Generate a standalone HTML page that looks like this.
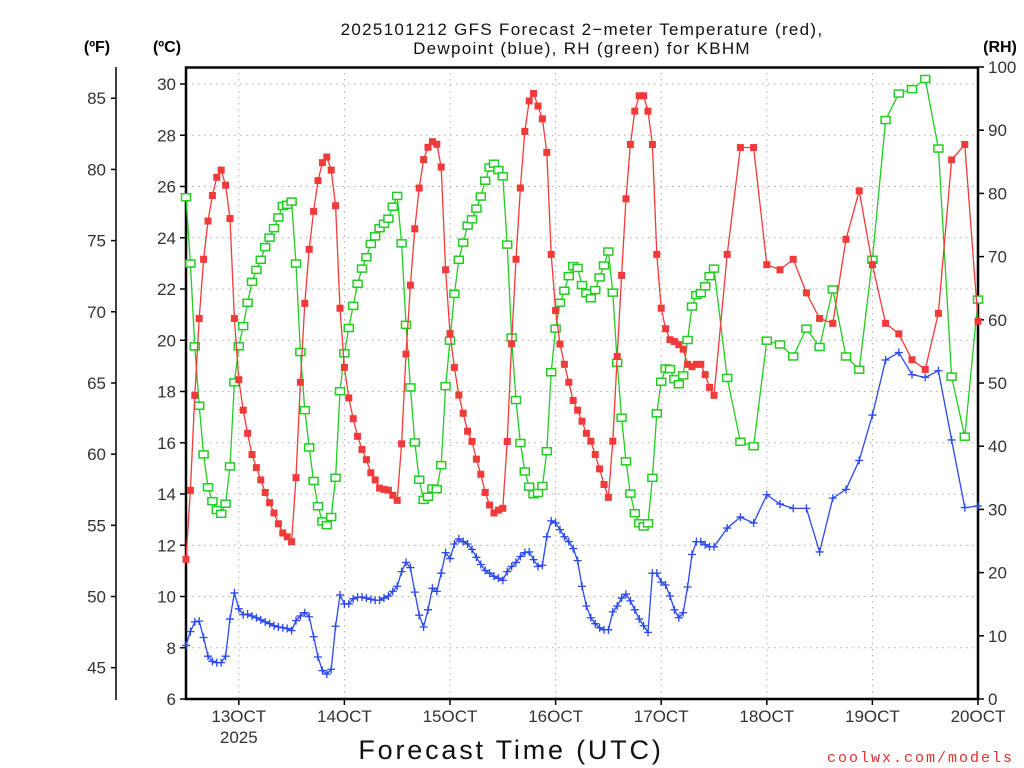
<!DOCTYPE html>
<html><head><meta charset="utf-8">
<style>
html,body{margin:0;padding:0;background:#fff;}
svg{display:block;font-family:"Liberation Sans",sans-serif;}
</style></head>
<body>
<svg id="chart" width="1024" height="768" viewBox="0 0 1024 768" xmlns="http://www.w3.org/2000/svg">
<g font-size="17" fill="#111" text-anchor="middle" letter-spacing="1.3">
<text x="582" y="35">2025101212 GFS Forecast 2−meter Temperature (red),</text>
<text x="582" y="54">Dewpoint (blue), RH (green) for KBHM</text>
</g>
<text x="97" y="52" font-size="16" font-weight="bold" text-anchor="middle">(ºF)</text>
<text x="167" y="52" font-size="16" font-weight="bold" text-anchor="middle">(ºC)</text>
<text x="1000" y="52" font-size="16" font-weight="bold" text-anchor="middle">(RH)</text>
<g id="grid"></g>
<g id="axes"></g>
<g id="series"></g>
<text x="511" y="759" font-size="27" letter-spacing="2.8" text-anchor="middle" fill="#111">Forecast Time (UTC)</text>
<text x="1014" y="762" font-size="15" letter-spacing="2" text-anchor="end" fill="#e03030" font-family="Liberation Mono, monospace">coolwx.com/models</text>
</svg>
<script>
const hours1 = Array.from({length:121},(_,i)=>i);
const hours2 = [123,126,129,132,135,138,141,144,147,150,153,156,159,162,165,168,171,174,177,180];
const tempC = [11.45,14.14,17.85,20.85,23.16,24.65,25.65,26.36,26.64,26.05,24.75,20.85,18.46,17.27,16.37,15.54,15.03,14.55,14.06,13.66,13.26,12.84,12.48,12.33,12.14,
14.64,18.36,21.44,23.55,25.03,26.23,26.93,27.15,26.64,25.25,21.25,18.94,17.75,16.94,16.25,15.74,15.34,14.83,14.55,14.23,
14.18,14.15,13.95,13.75,15.96,19.46,22.15,24.35,25.94,27.05,27.53,27.75,27.65,26.76,22.75,20.26,18.94,17.86,17.15,16.45,16.05,15.36,14.77,14.06,13.57,13.26,13.37,13.44,16.05,19.86,23.16,25.94,28.15,29.34,29.63,29.14,28.64,27.33,23.35,21.16,19.85,19.06,18.36,17.65,17.27,
16.84,16.37,16.06,15.54,14.98,14.37,13.87,16.06,19.37,22.53,25.52,27.64,28.94,29.54,29.54,28.94,27.64,23.35,21.25,20.45,20.02,19.95,19.83,19.65,19.06,18.97,19.06,19.06,18.66,18.16,17.85,
23.35,27.52,27.52,22.95,22.75,23.16,21.85,20.85,20.66,23.94,25.83,22.95,20.66,20.25,19.24,18.86,21.05,27.04,27.64,20.74];
const dewC = [8.09,8.63,9.01,9.04,8.40,7.67,7.47,7.42,7.42,7.67,9.12,10.14,9.52,9.29,9.31,9.24,9.17,9.09,9.01,8.94,8.86,8.81,8.78,8.75,8.67,
9.06,9.24,9.37,9.21,8.43,7.64,7.11,6.97,7.16,8.84,10.06,9.71,9.71,9.91,9.97,9.98,9.94,9.89,9.86,9.86,
9.94,10.02,10.20,10.40,10.97,11.33,11.13,10.17,9.27,8.81,9.48,10.32,10.20,10.91,11.71,11.48,12.05,12.25,12.14,12.05,11.84,11.53,11.25,11.02,10.91,10.79,10.71,10.63,10.97,11.17,11.33,11.56,11.71,11.74,11.44,11.17,11.22,12.33,12.95,12.87,12.61,12.33,12.14,11.87,11.40,
10.40,9.63,9.17,8.94,8.78,8.70,8.70,9.40,9.63,9.94,10.09,9.83,9.48,9.12,8.86,8.60,10.91,10.91,10.56,10.45,10.02,9.48,9.17,9.37,10.37,11.64,12.14,12.14,12.02,11.94,11.94,
12.67,13.10,12.87,13.97,13.61,13.44,13.44,11.74,13.84,14.18,15.31,17.08,19.23,19.52,18.66,18.55,18.81,16.11,13.47,13.53];
const rhPct = [79.4,68.9,55.8,46.4,38.7,33.5,31.3,29.9,29.3,30.9,36.8,50.1,55.8,59.0,62.7,66.0,67.9,69.5,71.5,73.0,74.5,76.2,78.0,78.2,78.7,
68.9,54.9,45.7,39.8,34.5,30.5,28.1,27.5,28.8,35.0,48.7,54.7,58.7,62.2,65.7,68.1,69.9,72.0,73.2,74.5,
75.2,76.0,77.9,79.6,72.1,59.2,49.3,40.6,34.7,31.5,32.0,33.3,33.2,37.0,49.5,56.7,64.1,69.5,72.2,74.9,75.9,77.6,79.5,82.0,84.1,84.7,83.7,82.7,71.9,57.2,47.3,40.5,36.0,33.6,32.4,32.6,33.7,39.2,51.7,58.6,62.7,64.6,66.9,68.5,68.2,
65.5,64.2,63.4,64.7,66.7,68.6,70.8,64.3,53.2,44.5,37.6,32.5,29.4,27.8,27.3,27.8,35.0,45.2,50.2,52.3,52.2,50.6,49.8,51.2,56.8,62.1,63.9,64.2,65.3,66.9,68.1,
50.8,40.7,40.0,56.7,56.1,54.2,58.6,55.7,64.8,54.2,52.1,69.5,91.6,95.8,96.5,98.1,87.1,51.0,41.5,63.2];
const dayLabels = ["13OCT","14OCT","15OCT","16OCT","17OCT","18OCT","19OCT","20OCT"];
const cTicks = [6,8,10,12,14,16,18,20,22,24,26,28,30];
const fTicks = [45,50,55,60,65,70,75,80,85];
const rhTicks = [0,10,20,30,40,50,60,70,80,90,100];

const hours = hours1.concat(hours2);
const X0=186, X1=978, Y0=699;
const xs = h => X0 + h*(X1-X0)/180;
const yC = c => Y0 - (c-6)*25.625;
const yF = f => yC((f-32)/1.8);
const yR = r => Y0 - r*6.32;
const NS="http://www.w3.org/2000/svg";
function mk(tag, attrs, parent){const e=document.createElementNS(NS,tag);for(const k in attrs)e.setAttribute(k,attrs[k]);parent.appendChild(e);return e;}
const grid=document.getElementById('grid'), axes=document.getElementById('axes'), series=document.getElementById('series');

cTicks.forEach(c=>{
  const y=yC(c);
  if(c>6){const g=mk('line',{x1:X0,x2:X1,y1:y,y2:y,stroke:'#aaa','stroke-width':1,'stroke-dasharray':'1.5 4.5'},grid);
  
  }
  const t=mk('line',{x1:X0-6,x2:X0,y1:y,y2:y,stroke:'#000','stroke-width':1.5},axes);
  
  
  const l=mk('text',{x:X0-10,y:y+6,'font-size':17,'text-anchor':'end',fill:'#333'},axes);
  l.textContent=c;
  
  
});
dayLabels.forEach((d,i)=>{
  const x=xs(12+24*i);
  if(i<7){const g=mk('line',{x1:x,x2:x,y1:67,y2:Y0,stroke:'#aaa','stroke-width':1,'stroke-dasharray':'1.5 4.5'},grid);
  
  }
  const t=mk('line',{x1:x,x2:x,y1:Y0,y2:Y0+6,stroke:'#000','stroke-width':1.5},axes);
  
  
  const l=mk('text',{x:x,y:722,'font-size':17,'text-anchor':'middle',fill:'#333'},axes);
  l.textContent=d;
  
  
});
const yr=mk('text',{x:xs(12),y:743,'font-size':17,'text-anchor':'middle',fill:'#333'},axes);
yr.textContent='2025';



const fl=mk('line',{x1:116,x2:116,y1:67,y2:700,stroke:'#000','stroke-width':1.5},axes);


fTicks.forEach(f=>{
  const y=yF(f);
  const t=mk('line',{x1:111,x2:116,y1:y,y2:y,stroke:'#000','stroke-width':1.5},axes);
  
  
  const l=mk('text',{x:106,y:y+6,'font-size':17,'text-anchor':'end',fill:'#333'},axes);
  l.textContent=f;
  
  
});
rhTicks.forEach(r=>{
  const y=yR(r);
  const t=mk('line',{x1:X1,x2:X1+6,y1:y,y2:y,stroke:'#000','stroke-width':1.5},axes);
  
  
  const l=mk('text',{x:X1+10,y:y+6,'font-size':17,'text-anchor':'start',fill:'#333'},axes);
  l.textContent=r;
  
  
});
const frame=mk('rect',{x:X0,y:67.5,width:X1-X0,height:Y0-67.5,fill:'none',stroke:'#000','stroke-width':2.5},axes);



function drawSeries(vals, yfn, color, kind, name){
  const g=mk('g',{},series);
  
  
  const pts=vals.map((v,i)=>xs(hours[i]).toFixed(1)+','+yfn(v).toFixed(1)).join(' ');
  const pl=mk('polyline',{points:pts,fill:'none',stroke:color,'stroke-width':1.3},g);
  
  
  vals.forEach((v,i)=>{
    const x=xs(hours[i]), y=yfn(v);
    let m;
    if(kind==='fill') m=mk('rect',{x:x-3.5,y:y-3.5,width:7,height:7,fill:color},g);
    else if(kind==='hollow') m=mk('rect',{x:x-4.5,y:y-3.5,width:9,height:7,fill:'#fff',stroke:color,'stroke-width':1.5},g);
    else m=mk('path',{d:`M${x-4},${y}H${x+4}M${x},${y-4}V${y+4}`,stroke:color,'stroke-width':1.3,fill:'none'},g);
    
    
  });
}
drawSeries(rhPct, yR, '#22cc22', 'hollow', 'rh');
drawSeries(tempC, yC, '#f23a3a', 'fill', 'temperature');
drawSeries(dewC, yC, '#2a48f0', 'plus', 'dewpoint');
</script>
</body></html>
